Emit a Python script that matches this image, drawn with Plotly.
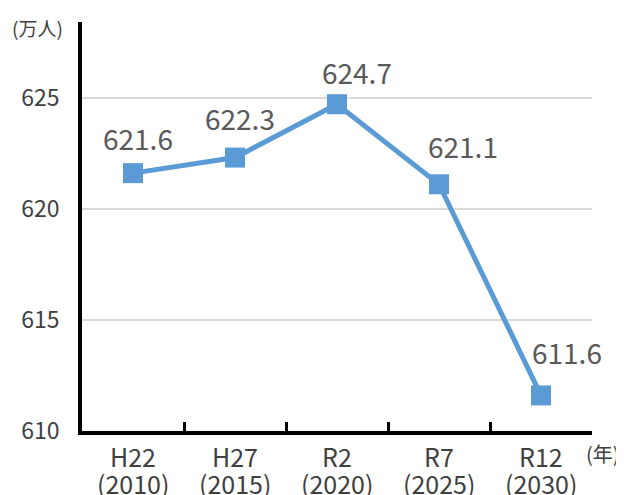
import plotly.graph_objects as go

categories = ["H22", "H27", "R2", "R7", "R12"]
years = ["(2010)", "(2015)", "(2020)", "(2025)", "(2030)"]
values = [621.6, 622.3, 624.7, 621.1, 611.6]
value_labels = ["621.6", "622.3", "624.7", "621.1", "611.6"]
y_ticks = [610, 615, 620, 625]

# label offsets (pixels) as placed in the reference
label_dx = [5, 5, 20, 24, 26]
label_dy = [35, 40, 32, 38, 43]

FONT = "Noto Sans CJK JP"
TXT = "#595959"
AX = "#404040"

fig = go.Figure()
fig.add_trace(go.Scatter(
    x=categories, y=values,
    mode="lines+markers",
    line=dict(color="#5B9BD5", width=5),
    marker=dict(symbol="square", size=20, color="#5B9BD5"),
    cliponaxis=False,
    hoverinfo="skip",
))

annotations = []
for c, v, t, dx, dy in zip(categories, values, value_labels, label_dx, label_dy):
    annotations.append(dict(
        x=c, y=v, xref="x", yref="y", text=t, showarrow=False,
        xanchor="center", yanchor="middle", xshift=dx, yshift=dy,
        font=dict(family=FONT, size=28, color=TXT),
    ))
for c, yr in zip(categories, years):
    annotations.append(dict(
        x=c, y=0, xref="x", yref="paper", text=c, showarrow=False,
        xanchor="center", yanchor="middle", yshift=-25,
        font=dict(family=FONT, size=25, color=AX),
    ))
    annotations.append(dict(
        x=c, y=0, xref="x", yref="paper", text=yr, showarrow=False,
        xanchor="center", yanchor="middle", yshift=-52,
        font=dict(family=FONT, size=25, color=AX),
    ))
annotations.append(dict(
    text="(万人)", xref="paper", yref="paper", x=0, y=1.0,
    xanchor="center", yanchor="middle", xshift=-45, yshift=-5, showarrow=False,
    font=dict(family=FONT, size=19, color=AX)))
annotations.append(dict(
    text="(年)", xref="paper", yref="paper", x=1.0, y=0,
    xanchor="center", yanchor="middle", xshift=11, yshift=-22, showarrow=False,
    font=dict(family=FONT, size=20, color=AX)))

fig.update_layout(
    width=616, height=487,
    margin=dict(l=74, r=32, t=14, b=64),
    plot_bgcolor="white", paper_bgcolor="white",
    showlegend=False,
    font=dict(family=FONT, color=AX),
    xaxis=dict(
        type="category",
        range=[-0.5, 4.5],
        showline=True, linecolor="black", linewidth=3.5,
        ticks="inside", tickson="boundaries", ticklen=9, tickwidth=2.5, tickcolor="black",
        showgrid=False, showticklabels=False,
    ),
    yaxis=dict(
        range=[610, 628.4],
        tickvals=y_ticks,
        showline=True, linecolor="black", linewidth=3.5,
        showgrid=True, gridcolor="#D9D9D9", gridwidth=1.5,
        ticks="", ticklen=0, ticklabelstandoff=14,
        tickfont=dict(family=FONT, size=23, color=AX),
        zeroline=False,
    ),
    annotations=annotations,
)

fig.write_html("out.html")
